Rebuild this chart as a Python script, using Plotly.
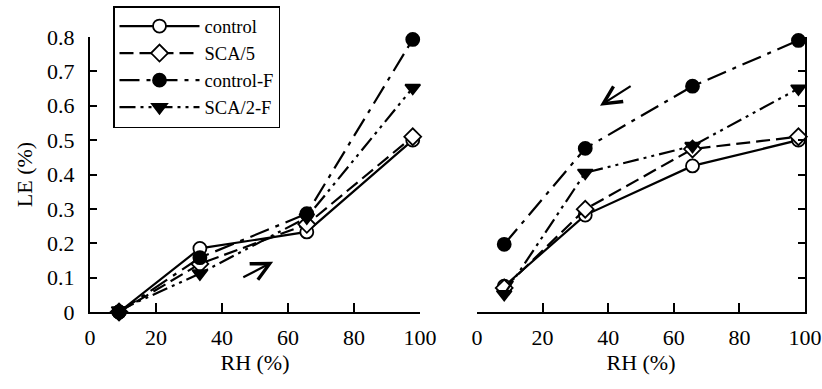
import plotly.graph_objects as go

# ---- data ----
series_names = ["control", "SCA/5", "control-F", "SCA/2-F"]

rh_ads = [8.8, 33.3, 65.7, 97.8]
le_ads_control = [0.0, 0.185, 0.233, 0.500]
le_ads_sca5 = [0.0, 0.140, 0.255, 0.510]
le_ads_controlF = [0.0, 0.158, 0.286, 0.793]
le_ads_sca2F = [0.005, 0.112, 0.275, 0.652]

rh_des = [8.3, 33.0, 65.7, 98.0]
le_des_control = [0.075, 0.282, 0.425, 0.500]
le_des_sca5 = [0.070, 0.299, 0.474, 0.510]
le_des_controlF = [0.197, 0.476, 0.657, 0.790]
le_des_sca2F = [0.052, 0.405, 0.483, 0.650]

x_ticks = [0, 20, 40, 60, 80, 100]
y_ticks = [0, 0.1, 0.2, 0.3, 0.4, 0.5, 0.6, 0.7, 0.8]

# arrow annotations (tail -> head) in data units
arrow_ads = dict(tail=(46.0, 0.099), head=(55.5, 0.146))
arrow_des = dict(tail=(47.3, 0.66), head=(37.5, 0.60))

FONT = "Liberation Serif, Times New Roman, serif"

styles = {
    "control": dict(dash="solid", symbol="circle", size=13, color="white"),
    "SCA/5": dict(dash="14px,6px", symbol="diamond", size=13, color="white"),
    "control-F": dict(dash="20px,7px,4px,7px", symbol="circle", size=13, color="black"),
    "SCA/2-F": dict(dash="16px,5px,3px,5px,3px,5px", symbol="triangle-down", size=13, color="black"),
}

ads = [le_ads_control, le_ads_sca5, le_ads_controlF, le_ads_sca2F]
des = [le_des_control, le_des_sca5, le_des_controlF, le_des_sca2F]

fig = go.Figure()
for name, yv in zip(series_names, ads):
    st = styles[name]
    fig.add_trace(go.Scatter(
        x=rh_ads, y=yv, name=name, mode="lines+markers",
        line=dict(color="black", width=2.2, dash=st["dash"]),
        marker=dict(symbol=st["symbol"], size=st["size"], color=st["color"],
                    line=dict(color="black", width=1.8)),
        xaxis="x", yaxis="y", cliponaxis=False,
    ))
for name, yv in zip(series_names, des):
    st = styles[name]
    fig.add_trace(go.Scatter(
        x=rh_des, y=yv, name=name, mode="lines+markers", showlegend=False,
        line=dict(color="black", width=2.2, dash=st["dash"]),
        marker=dict(symbol=st["symbol"], size=st["size"], color=st["color"],
                    line=dict(color="black", width=1.8)),
        xaxis="x2", yaxis="y2", cliponaxis=False,
    ))

axis_common = dict(
    showgrid=False, zeroline=False, showline=True, linecolor="black", linewidth=2,
    ticks="inside", tickcolor="black", tickwidth=2, automargin=False,
    tickfont=dict(family=FONT, size=22, color="black"),
)

fig.update_layout(
    template="none",
    width=822, height=389,
    margin=dict(l=0, r=0, t=0, b=0),
    paper_bgcolor="white", plot_bgcolor="white",
    font=dict(family=FONT, color="black"),
    xaxis=dict(domain=[90/822, 420/822], range=[0, 100], tickvals=x_ticks, ticklen=9,
               anchor="y", ticklabelstandoff=5,
               title=dict(text="RH (%)", font=dict(family=FONT, size=22), standoff=4),
               **axis_common),
    yaxis=dict(domain=[77/389, 352/389], range=[0, 0.8], tickvals=y_ticks, ticklen=7,
               anchor="x", ticklabelstandoff=9,
               title=dict(text="LE (%)", font=dict(family=FONT, size=22), standoff=8),
               **axis_common),
    xaxis2=dict(domain=[477/822, 805/822], range=[0, 100], tickvals=x_ticks, ticklen=9,
                anchor="y2", ticklabelstandoff=5,
                title=dict(text="RH (%)", font=dict(family=FONT, size=22), standoff=4),
                **axis_common),
    yaxis2=dict(domain=[77/389, 352/389], range=[0, 0.8], tickvals=y_ticks, ticklen=7,
                anchor="x2", side="right", showticklabels=False,
                **axis_common),
    legend=dict(x=113/822, y=383/389, xanchor="left", yanchor="top",
                bgcolor="white", bordercolor="black", borderwidth=1.5,
                font=dict(family=FONT, size=18.5, color="black"),
                tracegroupgap=0, itemwidth=80),
    showlegend=True,
)

for arr, xr, yr in [(arrow_ads, "x", "y"), (arrow_des, "x2", "y2")]:
    fig.add_annotation(
        x=arr["head"][0], y=arr["head"][1], ax=arr["tail"][0], ay=arr["tail"][1],
        xref=xr, yref=yr, axref=xr, ayref=yr, text="", showarrow=True,
        arrowhead=5, arrowsize=1.6, arrowwidth=2.2, arrowcolor="black",
    )

fig.write_html("out.html")
